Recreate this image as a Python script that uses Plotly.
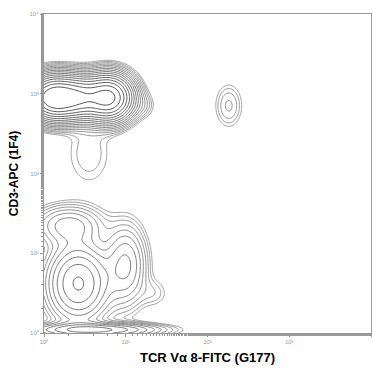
import numpy as np
import plotly.graph_objects as go

# Cell populations (log10 decade units)
pop_x = [0.35, 0.80, 0.10, 0.55, 1.20, 2.26, 0.42, 1.00, 0.30, 0.60, 1.35]
pop_y = [2.95, 2.95, 2.95, 2.25, 2.85, 2.85, 0.62, 0.85, 1.35, 0.04, 0.50]
pop_sx = [0.25, 0.15, 0.15, 0.20, 0.10, 0.11, 0.22, 0.15, 0.25, 0.45, 0.12]
pop_sy = [0.14, 0.15, 0.14, 0.30, 0.10, 0.18, 0.28, 0.30, 0.15, 0.05, 0.12]
pop_w = [0.70, 0.60, 0.50, 0.009, 0.010, 0.014, 0.13, 0.05, 0.04, 0.10, 0.008]

tick_vals = [1, 10, 100, 1000, 10000]
tick_text = ["10\u2070", "10\u00b9", "10\u00b2", "10\u00b3", "10\u2074"]

g = np.linspace(0, 4, 241)
GX, GY = np.meshgrid(g, g)
Z = np.zeros_like(GX)
for mx, my, sx, sy, w in zip(pop_x, pop_y, pop_sx, pop_sy, pop_w):
    Z += w * np.exp(-0.5 * (((GX - mx) / sx) ** 2 + ((GY - my) / sy) ** 2))
LZ = np.log10(Z / Z.max() + 1e-9)

fig = go.Figure(go.Contour(
    x=10 ** g, y=10 ** g, z=LZ,
    contours=dict(coloring="lines", start=-2.3, end=-0.2, size=0.14),
    colorscale=[[0, "#8a8a8a"], [0.5, "#555555"], [1, "#222222"]],
    line=dict(width=0.8), showscale=False, hoverinfo="skip",
))

axis_common = dict(
    type="log", range=[0, 4], tickvals=tick_vals, ticktext=tick_text,
    ticks="outside", ticklen=3, tickcolor="#999", showgrid=False, zeroline=False,
    showline=True, linecolor="#999", linewidth=1, mirror=True,
    tickfont=dict(size=6, color="#999", family="Arial"),
    minor=dict(ticks="outside", ticklen=2, tickcolor="#999", showgrid=False),
)
fig.update_layout(
    width=373, height=371, margin=dict(l=44, r=2, t=14, b=38),
    paper_bgcolor="white", plot_bgcolor="white",
    xaxis=dict(axis_common, title=dict(text="<b>TCR V\u03b1 8-FITC (G177)</b>", standoff=8,
               font=dict(size=13, family="Arial", color="black"))),
    yaxis=dict(axis_common, title=dict(text="<b>CD3-APC (1F4)</b>", standoff=8,
               font=dict(size=12, family="Arial", color="black"))),
    showlegend=False,
)
fig.write_html("out.html")
